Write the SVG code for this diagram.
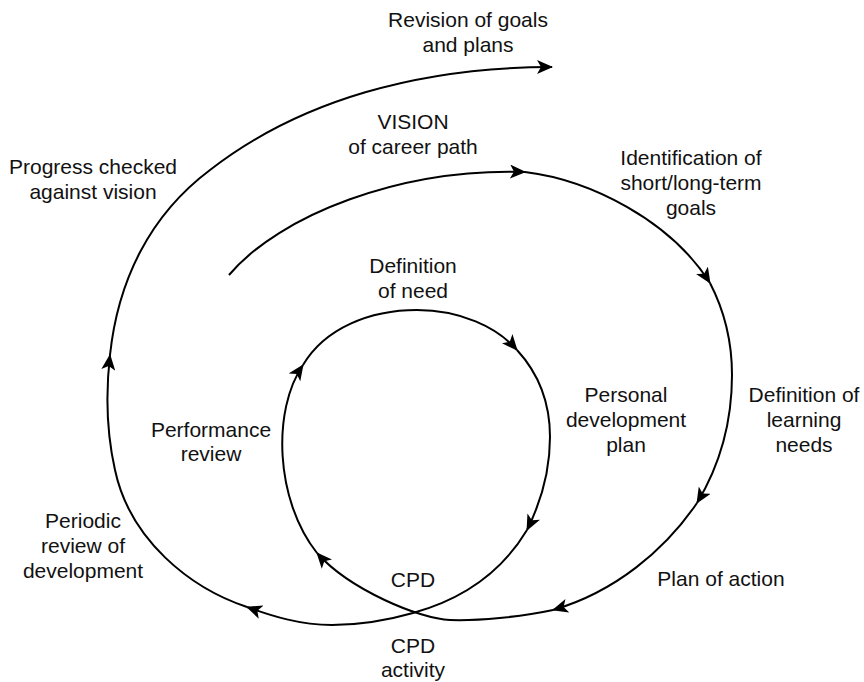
<svg xmlns="http://www.w3.org/2000/svg" width="864" height="682" viewBox="0 0 864 682">
  <defs>
    <style>
      .lbl { font-family: "Liberation Sans", Arial, Helvetica, sans-serif; font-size: 21px; fill: #111; text-anchor: middle; }
      .edge { fill: none; stroke: #000; stroke-width: 2; stroke-linecap: butt; stroke-linejoin: round; }
      .arr { marker-end: url(#classic); }
    </style>
    <marker id="classic" viewBox="0 0 16 14" refX="15" refY="7" markerWidth="16" markerHeight="14" markerUnits="userSpaceOnUse" orient="auto">
      <path d="M16,7 L0,0 L4,7 L0,14 Z" fill="#000"/>
    </marker>
  </defs>
  <rect width="864" height="682" fill="#fff"/>

  <!-- spiral path, split at each arrowhead -->
  <g id="connectors">
    <path class="edge arr" d="M229,275 C280,215 400,168 525,172"/>
    <path class="edge arr" d="M525,172 C590,180 670,220 710,283"/>
    <path class="edge arr" d="M710,283 C724,310 732,340 732,375 C732,420 720,465 697,503"/>
    <path class="edge arr" d="M697,503 C665,550 615,592 553,610"/>
    <path class="edge arr" d="M553,610 C520,617 478,621 450,620 C420,619 350,590 317,553"/>
    <path class="edge arr" d="M317,553 C275,500 272,410 303,365"/>
    <path class="edge arr" d="M303,365 C325,328 370,310 417,310 C460,310 497,327 517,350"/>
    <path class="edge arr" d="M517,350 C540,375 550,405 550,437 C550,470 542,500 527,530"/>
    <path class="edge arr" d="M527,530 C500,575 460,600 413,613 C385,621 360,625 332,625 C300,625 272,616 247,607"/>
    <path class="edge arr" d="M247,607 C190,588 130,540 115,470 C106,430 106,390 110,355"/>
    <path class="edge arr" d="M110,355 C118,280 150,215 210,170 C300,100 420,67 552,67"/>
  </g>

  <g id="revision">
    <text class="lbl" x="468" y="27">Revision of goals</text>
    <text class="lbl" x="468" y="52">and plans</text>
  </g>
  <g id="progress">
    <text class="lbl" x="93" y="174">Progress checked</text>
    <text class="lbl" x="93" y="199">against vision</text>
  </g>
  <g id="vision">
    <text class="lbl" x="413" y="129">VISION</text>
    <text class="lbl" x="413" y="154">of career path</text>
  </g>
  <g id="goals">
    <text class="lbl" x="691" y="165">Identification of</text>
    <text class="lbl" x="691" y="190">short/long-term</text>
    <text class="lbl" x="691" y="215">goals</text>
  </g>
  <g id="need">
    <text class="lbl" x="413" y="273">Definition</text>
    <text class="lbl" x="413" y="298">of need</text>
  </g>
  <g id="pdp">
    <text class="lbl" x="626" y="402">Personal</text>
    <text class="lbl" x="626" y="427">development</text>
    <text class="lbl" x="626" y="452">plan</text>
  </g>
  <g id="learning">
    <text class="lbl" x="804" y="402">Definition of</text>
    <text class="lbl" x="804" y="427">learning</text>
    <text class="lbl" x="804" y="452">needs</text>
  </g>
  <g id="performance">
    <text class="lbl" x="211" y="437">Performance</text>
    <text class="lbl" x="211" y="461">review</text>
  </g>
  <g id="periodic">
    <text class="lbl" x="83" y="528">Periodic</text>
    <text class="lbl" x="83" y="553">review of</text>
    <text class="lbl" x="83" y="578">development</text>
  </g>
  <g id="action">
    <text class="lbl" x="721" y="586">Plan of action</text>
  </g>
  <g id="cpd">
    <text class="lbl" x="413" y="587">CPD</text>
  </g>
  <g id="cpd-activity">
    <text class="lbl" x="413" y="653">CPD</text>
    <text class="lbl" x="413" y="677">activity</text>
  </g>
</svg>
